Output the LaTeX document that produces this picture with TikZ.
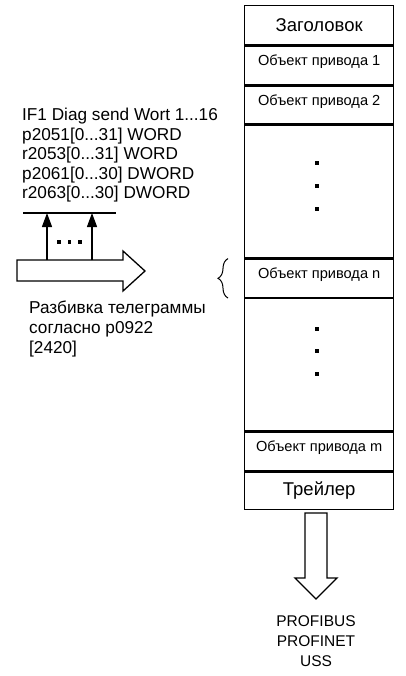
\documentclass[tikz,border=0pt]{standalone}
\usepackage{fontspec}
\setmainfont{Liberation Sans}
\usetikzlibrary{positioning,arrows.meta,decorations.pathreplacing}

\begin{document}
\begin{tikzpicture}[
  x=1pt, y=-1pt,
  cell/.style={draw, line width=1.4pt, minimum width=149pt, minimum height=#1, inner sep=0pt, anchor=north west, font=\fontsize{18.5}{22}\selectfont},
  objtext/.style={anchor=base, yshift=-20pt, inner sep=0pt, font=\fontsize{14.6}{17}\selectfont},
  infotext/.style={align=left, inner sep=0pt, font=\fontsize{17.2}{19.6}\selectfont},
  vdot/.style={fill, minimum size=3.2pt, inner sep=0pt},
  hollow/.style={draw, line width=1.3pt, fill=white, line join=miter},
  uparrow/.style={-{Triangle[length=14pt,width=10pt]}, line width=1.3pt}
]
\useasboundingbox (0,0) rectangle (405,676);

\node[cell=39] (head) at (244,5) {Заголовок};
\node[cell=39] (obj1) at (head.south west) {};
\node[cell=37] (obj2) at (obj1.south west) {};
\node[cell=133] (gap1) at (obj2.south west) {};
\node[cell=38] (objn) at (gap1.south west) {};
\node[cell=132] (gap2) at (objn.south west) {};
\node[cell=39] (objm) at (gap2.south west) {};
\node[cell=37] (trail) at (objm.south west) {Трейлер};

\node[objtext] (t1) at (obj1.north) {Объект привода 1};
\node[objtext] (t2) at (obj2.north) {Объект привода 2};
\node[objtext] (tn) at (objn.north) {Объект привода n};
\node[objtext] (tm) at (objm.north) {Объект привода m};

\node[vdot] (d1) at (317,163) {};
\node[vdot] (d2) at (317,186) {};
\node[vdot] (d3) at (317,209) {};
\node[vdot] (d4) at (317,329) {};
\node[vdot] (d5) at (317,351) {};
\node[vdot] (d6) at (317,374) {};

\draw[line width=1pt, decorate, decoration={brace, amplitude=10pt}]
  ([xshift=-16pt]objn.south west) -- ([xshift=-16pt]objn.north west);

\node[infotext, anchor=base west] (params) at (22,199) {IF1 Diag send Wort 1...16\\p2051[0...31] WORD\\r2053[0...31] WORD\\p2061[0...30] DWORD\\r2063[0...30] DWORD};

\draw[line width=1.3pt] (23,213) coordinate (busl) -- (116,213) coordinate (busr);
\draw[hollow] (17,260) -- (123,260) -- (123,251) -- (145,271) -- (123,291) -- (123,281) -- (17,281) -- cycle;
\coordinate (src1) at (47,260);
\coordinate (src2) at (92,260);
\draw[uparrow] (src1) -- (src1 |- busl);
\draw[uparrow] (src2) -- (src2 |- busl);
\node[vdot] (e1) at (59,242) {};
\node[vdot] (e2) at (69.5,242) {};
\node[vdot] (e3) at (80,242) {};

\node[infotext, anchor=base west] (split) at (29,353) {Разбивка телеграммы\\согласно p0922\\{[}2420{]}};

\draw[hollow] (305,513) -- (327,513) -- (327,578) -- (337,578) -- (316,599) -- (295,578) -- (305,578) -- cycle;
\node[infotext, align=center, anchor=base, font=\fontsize{15.5}{20}\selectfont] (bus) at (316,666.5) {PROFIBUS\\PROFINET\\USS};
\end{tikzpicture}
\end{document}
